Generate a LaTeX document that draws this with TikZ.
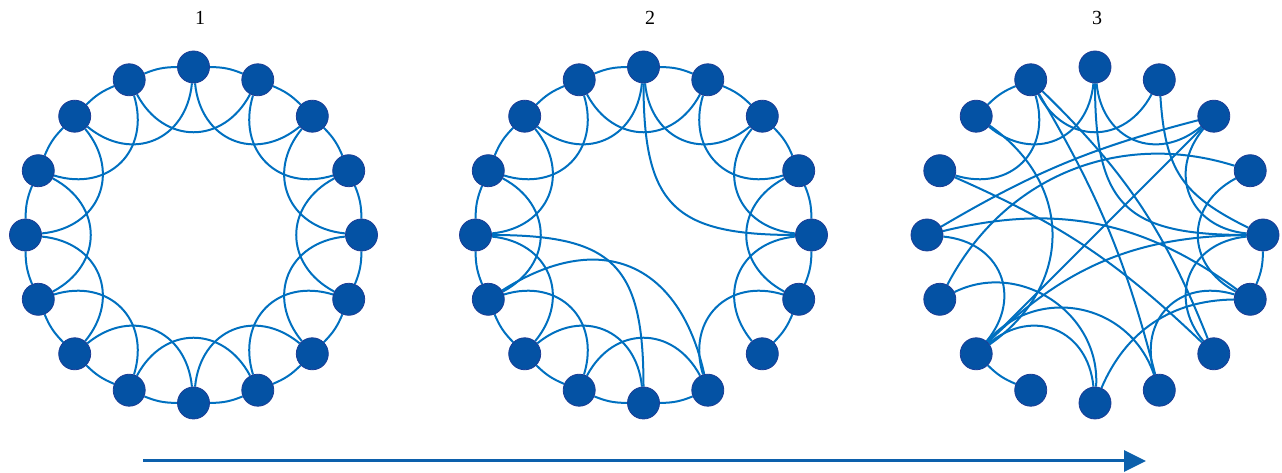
\documentclass[tikz,border=0pt]{standalone}
\usepackage{fontspec}
\setmainfont{Liberation Serif}
\usetikzlibrary{arrows.meta,backgrounds}
\definecolor{nodeblue}{RGB}{4,82,164}
\definecolor{nodeline}{RGB}{28,60,150}
\definecolor{linkblue}{RGB}{0,112,192}
\definecolor{arrowblue}{RGB}{12,96,172}
\begin{document}
\begin{tikzpicture}[x=1pt,y=1pt,
  vtx/.style={circle,fill=nodeblue,draw=nodeline,line width=0.8pt,minimum size=32pt,inner sep=0pt},
  link/.style={draw=linkblue,line width=2pt},
  ring/.style={bend left=11},
  dtwo/.style={bend right=62,looseness=1.3},
  lbl/.style={font=\fontsize{20}{24}\selectfont,inner sep=0pt}]
\useasboundingbox (0,0) rectangle (1282,473);

% three rings of sixteen vertices
\foreach \p/\cx in {a/193.5,b/643.5,c/1095} {
  \foreach \i in {0,...,15} {
    \pgfmathsetmacro\ang{90-22.5*\i}
    \node[vtx] (\p\i) at ({\cx+168*cos(\ang)},{238+168*sin(\ang)}) {};
  }
}

% step labels
\node[lbl] (t1) at (200,455) {1};
\node[lbl] (t2) at (650,455) {2};
\node[lbl] (t3) at (1097,455) {3};

\begin{scope}[on background layer]
  % regular ring lattice
  \foreach \i [evaluate=\i as \j using {int(mod(\i+1,16))},
               evaluate=\i as \k using {int(mod(\i+2,16))}] in {0,...,15} {
    \draw[link] (a\i) to[ring] (a\j);
    \draw[link] (a\i) to[dtwo] (a\k);
  }
  % a few edges rewired
  \foreach \i [evaluate=\i as \j using {int(mod(\i+1,16))},
               evaluate=\i as \k using {int(mod(\i+2,16))}] in {0,...,15} {
    \ifnum\i=6\else
      \draw[link] (b\i) to[ring] (b\j);
      \draw[link] (b\i) to[dtwo] (b\k);
    \fi
  }
  \draw[link] (b0) to[bend right=45,looseness=1.45] (b4);
  \draw[link] (b11) to[bend left=55,looseness=1.35] (b7);
  \draw[link] (b12) to[bend left=45,looseness=1.45] (b8);

  % random graph
  \foreach \u/\v in {14/15,9/10,4/5} {
    \draw[link] (c\u) to[ring] (c\v);
  }
  \foreach \u/\v in {15/1,14/0,0/2,13/15,10/12,8/10,3/5,4/6,5/7,2/4} {
    \draw[link] (c\u) to[dtwo] (c\v);
  }
  \draw[link] (c0) to[bend right=45,looseness=1.45] (c4);
  \draw[link] (c1) to[bend right=30,looseness=1.2] (c4);
  \draw[link] (c2) -- (c10);
  \draw[link] (c15) to[bend left=8] (c7);
  \draw[link] (c15) to[bend left=12] (c6);
  \draw[link] (c13) to[bend left=10] (c6);
  \draw[link] (c11) to[bend left=40] (c3);
  \draw[link] (c12) to[bend left=8] (c2);
  \draw[link] (c11) to[bend left=60,looseness=1.1] (c8);
  \draw[link] (c10) to[bend left=60,looseness=1.15] (c7);
  \draw[link] (c8) to[bend left=33] (c5);
  \draw[link] (c14) to[bend left=55,looseness=1.2] (c10);
  \draw[link] (c10) to[bend left=22] (c4);
  \draw[link] (c12) to[bend left=25] (c5);
\end{scope}

% direction of increasing randomness
\coordinate (s) at (143,12);
\coordinate (e) at (1146,12);
\draw[arrowblue,line width=3pt,-{Triangle[length=22pt,width=21pt]}] (s) -- (e);
\end{tikzpicture}
\end{document}
